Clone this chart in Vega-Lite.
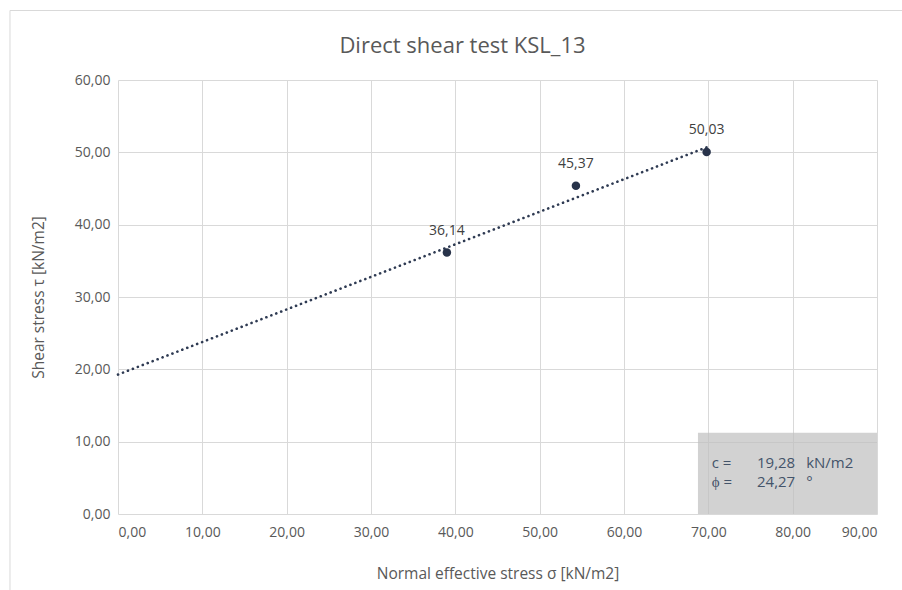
{
  "$schema": "https://vega.github.io/schema/vega-lite/v6.json",
  "width": 759,
  "height": 434,
  "autosize": "none",
  "padding": {"left": 118, "top": 80, "right": 25, "bottom": 76},
  "background": "white",
  "title": {
    "text": "Direct shear test KSL_13",
    "font": "Open Sans",
    "fontSize": 22,
    "fontWeight": "normal",
    "color": "#595959",
    "anchor": "middle",
    "dx": -35,
    "offset": -48
  },
  "datasets": {
    "points": [
      {"sigma": 39.0, "tau": 36.14, "label": "36,14"},
      {"sigma": 54.3, "tau": 45.37, "label": "45,37"},
      {"sigma": 69.8, "tau": 50.03, "label": "50,03"}
    ],
    "trend": [
      {"sigma": 0, "tau": 19.28},
      {"sigma": 69.8, "tau": 50.7}
    ],
    "box": [{"x1": 68.77, "x2": 90, "y1": 0, "y2": 11.24}],
    "names": [
      {"x": 70.4, "y": 7.0, "t": "c ="},
      {"x": 70.4, "y": 4.47, "t": "ϕ ="}
    ],
    "values": [
      {"x": 80.3, "y": 7.0, "t": "19,28"},
      {"x": 80.3, "y": 4.47, "t": "24,27"}
    ],
    "units": [
      {"x": 81.6, "y": 7.0, "t": "kN/m2"},
      {"x": 81.6, "y": 4.47, "t": "°"}
    ],
    "frameV": [{"x": -12.81, "y": -25, "y2": 69.61}],
    "frameH": [{"x": -12.81, "x2": 100, "y": 69.61}]
  },
  "layer": [
    {
      "data": {"name": "box"},
      "mark": {"type": "rect", "color": "#BFBFBF", "opacity": 0.7},
      "encoding": {
        "x": {"field": "x1", "type": "quantitative", "scale": {"domain": [0, 90], "nice": false, "zero": false},
          "axis": {
            "title": "Normal effective stress σ [kN/m2]",
            "values": [0, 10, 20, 30, 40, 50, 60, 70, 80, 90],
            "format": ".2f",
            "grid": true,
            "gridColor": "#D9D9D9",
            "domain": false,
            "ticks": false,
            "labelPadding": 11,
            "titlePadding": 27
          }},
        "x2": {"field": "x2"},
        "y": {"field": "y1", "type": "quantitative", "scale": {"domain": [0, 60], "nice": false, "zero": false},
          "axis": {
            "title": "Shear stress τ [kN/m2]",
            "values": [0, 10, 20, 30, 40, 50, 60],
            "format": ".2f",
            "grid": true,
            "gridColor": "#D9D9D9",
            "domain": false,
            "ticks": false,
            "labelPadding": 8,
            "titlePadding": 28
          }},
        "y2": {"field": "y2"}
      }
    },
    {
      "data": {"name": "frameV"},
      "mark": {"type": "rule", "color": "#D9D9D9", "strokeWidth": 1, "clip": false},
      "encoding": {
        "x": {"field": "x", "type": "quantitative"},
        "y": {"field": "y", "type": "quantitative"},
        "y2": {"field": "y2"}
      }
    },
    {
      "data": {"name": "frameH"},
      "mark": {"type": "rule", "color": "#D9D9D9", "strokeWidth": 1, "clip": false},
      "encoding": {
        "x": {"field": "x", "type": "quantitative"},
        "x2": {"field": "x2"},
        "y": {"field": "y", "type": "quantitative"}
      }
    },
    {
      "data": {"name": "trend"},
      "mark": {"type": "line", "color": "#2E3A52", "strokeWidth": 2.6, "strokeDash": [0.1, 5.2], "strokeCap": "round"},
      "encoding": {
        "x": {"field": "sigma", "type": "quantitative"},
        "y": {"field": "tau", "type": "quantitative"}
      }
    },
    {
      "data": {"name": "points"},
      "mark": {"type": "point", "filled": true, "shape": "circle", "size": 72, "color": "#28334A", "opacity": 1},
      "encoding": {
        "x": {"field": "sigma", "type": "quantitative"},
        "y": {"field": "tau", "type": "quantitative"}
      }
    },
    {
      "data": {"name": "points"},
      "mark": {"type": "text", "font": "Open Sans", "fontSize": 14, "color": "#404040", "dy": -22, "baseline": "middle"},
      "encoding": {
        "x": {"field": "sigma", "type": "quantitative"},
        "y": {"field": "tau", "type": "quantitative"},
        "text": {"field": "label"}
      }
    },
    {
      "data": {"name": "names"},
      "mark": {"type": "text", "font": "Open Sans", "fontSize": 15, "color": "#44546A", "align": "left", "baseline": "middle"},
      "encoding": {
        "x": {"field": "x", "type": "quantitative"},
        "y": {"field": "y", "type": "quantitative"},
        "text": {"field": "t"}
      }
    },
    {
      "data": {"name": "values"},
      "mark": {"type": "text", "font": "Open Sans", "fontSize": 15, "color": "#44546A", "align": "right", "baseline": "middle"},
      "encoding": {
        "x": {"field": "x", "type": "quantitative"},
        "y": {"field": "y", "type": "quantitative"},
        "text": {"field": "t"}
      }
    },
    {
      "data": {"name": "units"},
      "mark": {"type": "text", "font": "Open Sans", "fontSize": 15, "color": "#44546A", "align": "left", "baseline": "middle"},
      "encoding": {
        "x": {"field": "x", "type": "quantitative"},
        "y": {"field": "y", "type": "quantitative"},
        "text": {"field": "t"}
      }
    }
  ],
  "config": {
    "locale": {"number": {"decimal": ",", "thousands": ".", "grouping": [3], "currency": ["", " €"]}},
    "view": {"stroke": null},
    "axis": {
      "labelFont": "Open Sans",
      "labelFontSize": 14,
      "labelColor": "#595959",
      "titleFont": "Open Sans",
      "titleFontSize": 15.5,
      "titleFontWeight": "normal",
      "titleColor": "#595959"
    }
  }
}
